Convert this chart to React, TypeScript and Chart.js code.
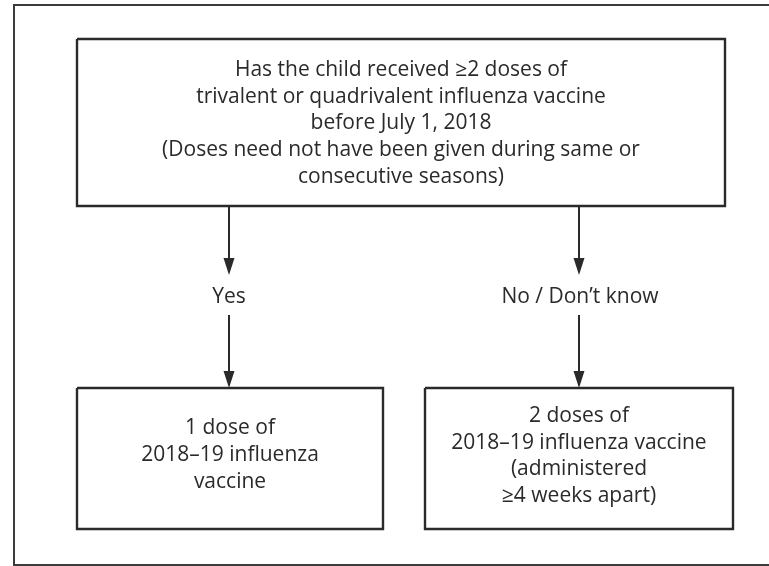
import React, { useEffect, useRef } from "react";
import { Chart, registerables } from "chart.js";

Chart.register(...registerables);

// Flowchart geometry in chart units (x: 0–769, y: 0–566, y downward)
const frameLeft = 14;
const frameTop = 5;
const frameBottom = 565;

const boxNames = ["question", "yes", "no"];
const boxLeft = [77, 77, 425];
const boxTop = [39, 388, 388];
const boxRight = [725, 383, 733];
const boxBottom = [206, 529, 529];

const questionLines = [
  "Has the child received \u22652 doses of",
  "trivalent or quadrivalent influenza vaccine",
  "before July 1, 2018",
  "(Doses need not have been given during same or",
  "consecutive seasons)",
];
const yesLines = ["1 dose of", "2018\u201319 influenza", "vaccine"];
const noLines = [
  "2 doses of",
  "2018\u201319 influenza vaccine",
  "(administered",
  "\u22654 weeks apart)",
];
const boxTexts = [questionLines, yesLines, noLines];
const boxTextCenterY = [123.5, 455, 456];

const arrowX = [229, 229, 579, 579];
const arrowFrom = [206, 315, 206, 315];
const arrowTo = [275, 388, 275, 388];

const branchLabels = ["Yes", "No / Don\u2019t know"];
const branchX = [229, 580];
const branchY = [297, 297];

const INK = "#2a2a2a";
const FONT = "500 21px 'Open Sans', sans-serif";
const LINE_H = 26.6;

const flowPlugin = {
  id: "flowText",
  afterDatasetsDraw(chart: any) {
    const { ctx, scales } = chart;
    const xs = scales.x;
    const ys = scales.y;
    ctx.save();
    // arrowheads
    ctx.fillStyle = INK;
    for (let i = 0; i < arrowX.length; i++) {
      const px = xs.getPixelForValue(arrowX[i]);
      const tip = ys.getPixelForValue(arrowTo[i]);
      ctx.beginPath();
      ctx.moveTo(px, tip);
      ctx.lineTo(px - 5.5, tip - 17);
      ctx.lineTo(px + 5.5, tip - 17);
      ctx.closePath();
      ctx.fill();
    }
    // texts
    ctx.font = FONT;
    ctx.textAlign = "center";
    ctx.textBaseline = "middle";
    ctx.fillStyle = INK;
    for (let b = 0; b < boxNames.length; b++) {
      const lines = boxTexts[b];
      const cx = xs.getPixelForValue((boxLeft[b] + boxRight[b]) / 2);
      const cy = ys.getPixelForValue(boxTextCenterY[b]);
      const start = cy - ((lines.length - 1) * LINE_H) / 2;
      lines.forEach((t, k) => ctx.fillText(t, cx, start + k * LINE_H));
    }
    branchLabels.forEach((t, k) => {
      ctx.fillText(t, xs.getPixelForValue(branchX[k]), ys.getPixelForValue(branchY[k]));
    });
    ctx.restore();
  },
};

export default function App() {
  const ref = useRef<HTMLCanvasElement>(null);
  useEffect(() => {
    document.body.style.margin = "0";
    const datasets: any[] = [];
    datasets.push({
      data: [
        { x: 790, y: frameTop },
        { x: frameLeft, y: frameTop },
        { x: frameLeft, y: frameBottom },
        { x: 790, y: frameBottom },
      ],
      borderColor: "#3c3c3c",
      borderWidth: 2,
      clip: false,
    });
    for (let b = 0; b < boxNames.length; b++) {
      datasets.push({
        data: [
          { x: boxLeft[b], y: boxTop[b] },
          { x: boxRight[b], y: boxTop[b] },
          { x: boxRight[b], y: boxBottom[b] },
          { x: boxLeft[b], y: boxBottom[b] },
          { x: boxLeft[b], y: boxTop[b] },
        ],
        borderColor: INK,
        borderWidth: 2.4,
        borderJoinStyle: "miter",
        clip: false,
      });
    }
    for (let i = 0; i < arrowX.length; i++) {
      datasets.push({
        data: [
          { x: arrowX[i], y: arrowFrom[i] },
          { x: arrowX[i], y: arrowTo[i] - 12 },
        ],
        borderColor: INK,
        borderWidth: 2,
        clip: false,
      });
    }
    const chart = new Chart(ref.current!, {
      type: "line",
      data: { datasets },
      options: {
        animation: false,
        responsive: false,
        devicePixelRatio: 1,
        layout: { padding: 0 },
        elements: { point: { radius: 0, hoverRadius: 0 }, line: { tension: 0 } },
        plugins: { legend: { display: false }, tooltip: { enabled: false } },
        events: [],
        scales: {
          x: { type: "linear", min: 0, max: 769, display: false },
          y: { type: "linear", min: 0, max: 566, reverse: true, display: false },
        },
      },
      plugins: [flowPlugin],
    });
    return () => chart.destroy();
  }, []);
  return (
    <div style={{ width: 769, height: 566, background: "#fff" }}>
      <canvas ref={ref} width={769} height={566} style={{ display: "block" }} />
    </div>
  );
}
